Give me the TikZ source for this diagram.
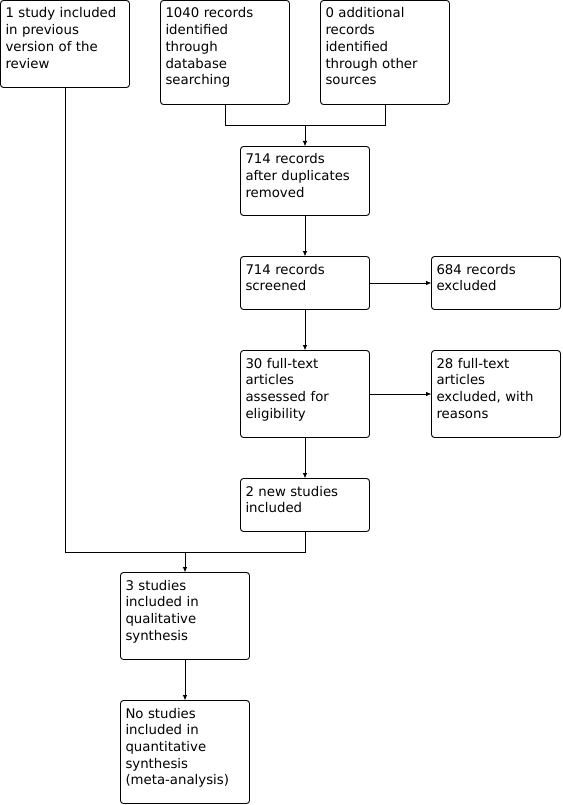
\documentclass[tikz,border=0pt]{standalone}
\usepackage{fontspec}
\setmainfont{DejaVu Sans}
\usetikzlibrary{positioning,calc,arrows.meta}
\begin{document}
\begin{tikzpicture}[
    line width = 0.9pt,
    box/.style = {draw, rounded corners = 3pt, anchor = north west, align = left, text width = 119pt, inner xsep = 5pt, inner ysep = 6pt, outer sep = 0pt, text height = 11.5pt, font = \fontsize{13.3}{16.7}\selectfont},
    arr/.style = {-{Latex[length = 5.5pt, width = 4.5pt]}}
]
\useasboundingbox (0,0) rectangle (562pt,-805pt);
\node[box, text depth = 63.5pt] (prev) at (0.5pt,-0.5pt) {1 study included\\in previous\\version of the\\review};
\node[right = 31pt of prev.north east, box, text depth = 80.5pt] (db) {1040 records\\identified\\through\\database\\searching};
\node[right = 31pt of db.north east, box, text depth = 80.5pt] (other) {0 additional\\records\\identified\\through other\\sources};
\coordinate (mid) at ($(db.south)!0.5!(other.south)$);
\node[box, below = 42pt of mid, text depth = 45.5pt] (dup) {714 records\\after duplicates\\removed};
\node[box, below = 41pt of dup, text depth = 29.5pt] (scr) {714 records\\screened};
\node[box, right = 62pt of scr, text depth = 29.5pt] (excl) {684 records\\excluded};
\node[box, below = 41pt of scr, text depth = 63.5pt] (full) {30 full-text\\articles\\assessed for\\eligibility};
\node[box, right = 62pt of full, text depth = 63.5pt] (fexcl) {28 full-text\\articles\\excluded, with\\reasons};
\node[box, below = 41pt of full, text depth = 29.5pt] (new) {2 new studies\\included};
\coordinate (mid2) at ($(prev.south |- new.south)!0.5!(new.south)$);
\node[box, below = 41pt of mid2, text depth = 63.5pt] (qual) {3 studies\\included in\\qualitative\\synthesis};
\node[box, below = 41pt of qual, text depth = 79.5pt] (quant) {No studies\\included in\\quantitative\\synthesis\\(meta-analysis)};
% arrows
\coordinate (join) at ($(mid) + (0,-21pt)$);
\coordinate (join2) at ($(mid2) + (0,-21pt)$);
\draw (db.south) |- (join) -| (other.south);
\draw (prev.south) |- (join2) -| (new.south);
\path[arr]
(join) edge (dup)
(dup) edge (scr)
(scr) edge (excl)
(scr) edge (full)
(full) edge (fexcl)
(full) edge (new)
(join2) edge (qual)
(qual) edge (quant);

\end{tikzpicture}
\end{document}
